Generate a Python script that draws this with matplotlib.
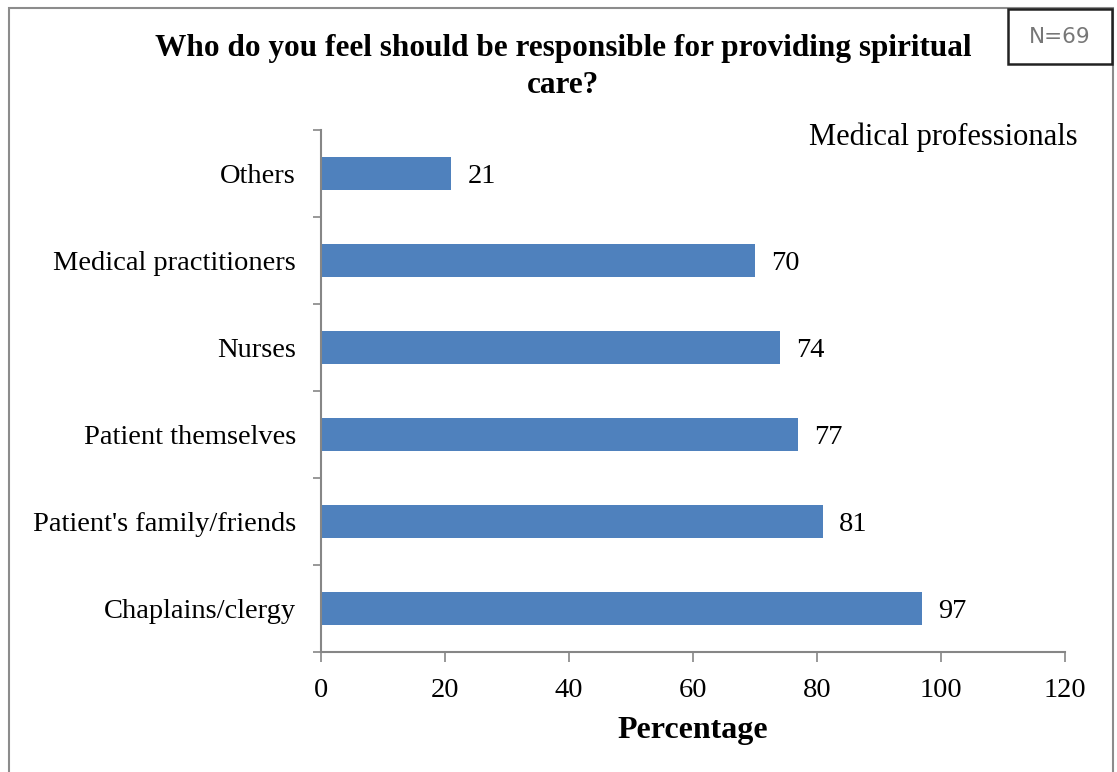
import matplotlib.pyplot as plt
from matplotlib.patches import Rectangle

categories = ["Chaplains/clergy", "Patient's family/friends", "Patient themselves",
              "Nurses", "Medical practitioners", "Others"]
values = [97, 81, 77, 74, 70, 21]
xticks = [0, 20, 40, 60, 80, 100, 120]

W, H = 1117, 772
fig = plt.figure(figsize=(W / 100, H / 100), dpi=100)
plt.rcParams['font.family'] = ['Liberation Serif', 'DejaVu Serif']

# grey outer frame
fig.patches.append(Rectangle((9 / W, -0.01), (1113 - 9) / W, 1 - 8 / H + 0.01,
                             transform=fig.transFigure, fill=False,
                             edgecolor='#8c8c8c', linewidth=1.5))

ax = fig.add_axes([321 / W, 120 / H, 744 / W, 522 / H])
pos = list(range(len(categories)))
ax.barh(pos, values, height=0.39, color='#4f81bd')
for p, v in zip(pos, values):
    ax.text(v + 2.6, p, str(v), va='center_baseline', ha='left', fontsize=20.5)

ax.set_xlim(0, 120)
ax.set_ylim(-0.5, len(categories) - 0.5)
ax.set_xticks(xticks)
ax.set_xticklabels([str(t) for t in xticks], fontsize=20.5)
ax.set_yticks(pos)
ax.set_yticklabels(categories, fontsize=20.5)
ax.tick_params(axis='y', length=0, pad=18)
ax.set_yticks([p - 0.5 for p in range(len(categories) + 1)], minor=True)
ax.tick_params(axis='y', which='minor', length=6, color='#868686', width=1.2)
ax.tick_params(axis='x', length=7, color='#868686', width=1.2, pad=12)
for s in ['top', 'right']:
    ax.spines[s].set_visible(False)
for s in ['left', 'bottom']:
    ax.spines[s].set_color('#868686')
    ax.spines[s].set_linewidth(1.5)
ax.set_xlabel("Percentage", fontsize=23, fontweight='bold', labelpad=9)

fig.text(1078 / W, 1 - 137 / H, "Medical professionals",
         ha='right', va='center', fontsize=22)

fig.text(563 / W, 1 - 67 / H,
         "Who do you feel should be responsible for providing spiritual\ncare?",
         ha='center', va='center', fontsize=22.5, fontweight='bold', linespacing=1.32)

# sample size box
fig.patches.append(Rectangle((1008 / W, 1 - 64 / H), 104 / W, 55 / H,
                             transform=fig.transFigure, facecolor='white',
                             edgecolor='#222222', linewidth=1.8, zorder=5))
fig.text(1060 / W, 1 - 37 / H, "N=69", ha='center', va='center', fontsize=15.5,
         color='#777777', family='DejaVu Sans', zorder=6)

fig.savefig("out.png", dpi=100)
